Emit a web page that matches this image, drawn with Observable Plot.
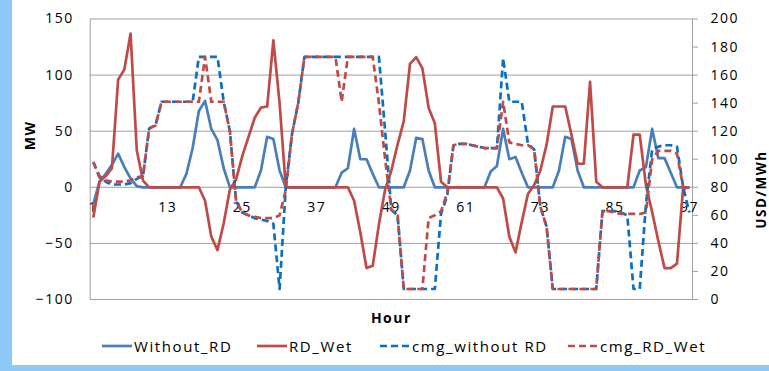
<!DOCTYPE html>
<html>
<head>
<meta charset="utf-8">
<script src="https://cdn.jsdelivr.net/npm/d3@7"></script>
<script src="https://cdn.jsdelivr.net/npm/@observablehq/plot@0.6"></script>
<style>
  body { margin: 0; background: #fff; }
  #wrap { position: relative; width: 769px; height: 371px; overflow: hidden; background: #fff; font-family: "Open Sans", sans-serif; }
  #lstripe { position: absolute; left: 0; top: 0; width: 12px; height: 371px; background: #8dc8f8; }
  #bstripe { position: absolute; left: 0; top: 365px; width: 769px; height: 6px; background: #8dc8f8; }
  #chart { position: absolute; left: 0; top: 0; }
  #chart svg text { letter-spacing: 1.5px; }
  .leg { position: absolute; top: 337px; height: 18px; display: flex; align-items: center; font-size: 15px; letter-spacing: 1.6px; color: #000; white-space: nowrap; }
  .leg svg { margin-right: 2px; }
</style>
</head>
<body>
<div id="wrap">
  <div id="lstripe"></div>
  <div id="bstripe"></div>
  <div id="chart"></div>
  <div id="legend"></div>
</div>
<script>
// ---- data ----
const hours = d3.range(1, 98);

const withoutRD = [
  -15, 5, 12, 20, 30, 18, 8, 1, 0, 0,
  0, 0, 0, 0, 0, 12, 35, 68, 77, 52,
  42, 17, 0, 0, 0, 0, 0, 15, 45, 43,
  15, 0, 0, 0, 0, 0, 0, 0, 0, 0,
  13, 17, 52, 25, 25, 12, 0, 0, 0, 0,
  0, 15, 44, 43, 15, 0, 0, 0, 0, 0,
  0, 0, 0, 0, 14, 19, 52, 25, 27, 13,
  0, 0, 0, 0, 0, 15, 45, 43, 15, 0,
  0, 0, 0, 0, 0, 0, 0, 0, 15, 18,
  52, 26, 26, 13, 0, 0, 0
];

const rdWet = [
  -27, 5, 10, 17, 96, 105, 137, 33, 6, 0,
  0, 0, 0, 0, 0, 0, 0, 0, -12, -44,
  -56, -32, -2, 7, 28, 45, 62, 71, 72, 131,
  75, 0, 0, 0, 0, 0, 0, 0, 0, 0,
  0, 0, -12, -40, -72, -70, -33, -2, 15, 38,
  59, 110, 116, 106, 71, 57, 5, 0, 0, 0,
  0, 0, 0, 0, 0, 0, -10, -44, -58, -31,
  -6, 2, 15, 38, 72, 72, 72, 47, 21, 21,
  94, 5, 0, 0, 0, 0, 0, 47, 47, 2,
  -22, -48, -72, -72, -68, 0, 0
];

const cmgWithoutRD = [
  98, 87, 84, 82, 82, 82, 83, 86, 88, 122,
  124, 141, 141, 141, 141, 141, 141, 173, 173, 173,
  173, 141, 120, 70, 62, 60, 58, 57, 56, 54,
  7.5, 80, 118, 140, 173, 173, 173, 173, 173, 173,
  173, 173, 173, 173, 173, 173, 173, 120, 64, 60,
  7.5, 7.5, 7.5, 7.5, 7.5, 7.5, 61, 74, 110, 111,
  111, 110, 109, 108, 108, 108, 172, 141, 141, 141,
  111, 107, 66, 52, 7.5, 7.5, 7.5, 7.5, 7.5, 7.5,
  7.5, 7.5, 63, 63, 63, 62, 60, 7.5, 7.5, 68,
  107, 109, 110, 110, 109, 80, 62
];

const cmgRDWet = [
  98, 88, 85, 84, 84, 84, 85, 87, 88, 122,
  124, 141, 141, 141, 141, 141, 141, 141, 173, 141,
  141, 141, 120, 70, 62, 60, 59, 58, 58, 58,
  60, 78, 118, 140, 173, 173, 173, 173, 173, 173,
  141, 173, 173, 173, 173, 173, 140, 100, 64, 60,
  7.5, 7.5, 7.5, 7.5, 58, 60, 63, 76, 110, 111,
  111, 110, 109, 108, 108, 108, 141, 112, 111, 110,
  110, 107, 66, 52, 7.5, 7.5, 7.5, 7.5, 7.5, 7.5,
  7.5, 7.5, 63, 63, 62, 61, 61, 61, 61, 62,
  100, 106, 106, 106, 104, 80, 78
];

const leftTicks = [-100, -50, 0, 50, 100, 150];
const rightTicks = [0, 20, 40, 60, 80, 100, 120, 140, 160, 180, 200];
const xTickLabels = [1, 13, 25, 37, 49, 61, 73, 85, 97];
const gridLines = [-50, 0, 50, 100];

const seriesNames = ["Without_RD", "RD_Wet", "cmg_without RD", "cmg_RD_Wet"];
const seriesColors = ["#4a7ebb", "#be4b48", "#0a70c4", "#be4b48"];
const seriesDash = [null, null, "7,4", "7,4"];
const seriesAxis = ["left", "left", "right", "right"];
const seriesValues = [withoutRD, rdWet, cmgWithoutRD, cmgRDWet];

// secondary axis (USD/MWh 0..200) mapped onto the MW scale (-100..150)
const toLeft = u => 1.25 * u - 100;
const fromLeft = m => (m + 100) / 1.25;

const lineMarks = seriesValues.map((vals, k) => {
  const rows = vals.map((v, i) => ({hour: hours[i], val: seriesAxis[k] === "left" ? v : toLeft(v)}));
  return Plot.line(rows, {
    x: "hour", y: "val",
    stroke: seriesColors[k],
    strokeWidth: 2.7,
    strokeDasharray: seriesDash[k] || undefined,
    strokeLinejoin: "round",
    strokeLinecap: "butt"
  });
});

const chart = Plot.plot({
  width: 769,
  height: 330,
  marginTop: 18.5,
  marginBottom: 31,
  marginLeft: 89.7,
  marginRight: 77,
  x: {domain: [0.5, 97.5], axis: null},
  y: {domain: [-100, 150], axis: null, label: null},
  style: {fontFamily: "Open Sans", fontSize: "14px", color: "#000", background: "transparent", overflow: "visible"},
  marks: [
    Plot.ruleY(gridLines, {stroke: "#a0a0a0", strokeWidth: 1}),
    Plot.frame({stroke: "#a0a0a0", strokeWidth: 1}),
    Plot.axisY(leftTicks, {anchor: "left", tickSize: 0, tickPadding: 16.5, fontSize: 14, label: null}),
    Plot.axisY(rightTicks.map(toLeft), {anchor: "right", tickSize: 5, tickPadding: 13, stroke: "#a0a0a0", fill: "#000", fontSize: 14, label: null, tickFormat: d => String(Math.round(fromLeft(d)))}),
    Plot.text(xTickLabels, {x: d => d, y: 0, dy: 20, text: d => String(d), fontSize: 14, fill: "#000"}),
    ...lineMarks,
    Plot.text(["MW"], {frameAnchor: "left", dx: -60, dy: -9, rotate: -90, fontWeight: "bold", fontSize: 14, fill: "#000"}),
    Plot.text(["USD/MWh"], {frameAnchor: "right", dx: 69, dy: -9, rotate: -90, fontWeight: "bold", fontSize: 13.5, fill: "#000"}),
    Plot.text(["Hour"], {frameAnchor: "bottom", dy: 23, fontWeight: "bold", fontSize: 14, fill: "#000"})
  ]
});
document.getElementById("chart").appendChild(chart);

// legend
const legendX = [102, 257, 380, 568];
const legend = document.getElementById("legend");
seriesNames.forEach((name, k) => {
  const item = document.createElement("div");
  item.className = "leg";
  item.style.left = legendX[k] + "px";
  const ns = "http://www.w3.org/2000/svg";
  const sv = document.createElementNS(ns, "svg");
  sv.setAttribute("width", 30);
  sv.setAttribute("height", 18);
  const ln = document.createElementNS(ns, "line");
  ln.setAttribute("x1", 0); ln.setAttribute("x2", 30);
  ln.setAttribute("y1", 9); ln.setAttribute("y2", 9);
  ln.setAttribute("stroke", seriesColors[k]);
  ln.setAttribute("stroke-width", 2.7);
  if (seriesDash[k]) ln.setAttribute("stroke-dasharray", seriesDash[k]);
  sv.appendChild(ln);
  item.appendChild(sv);
  const t = document.createElement("span");
  t.textContent = name;
  item.appendChild(t);
  legend.appendChild(item);
});
</script>
</body>
</html>
